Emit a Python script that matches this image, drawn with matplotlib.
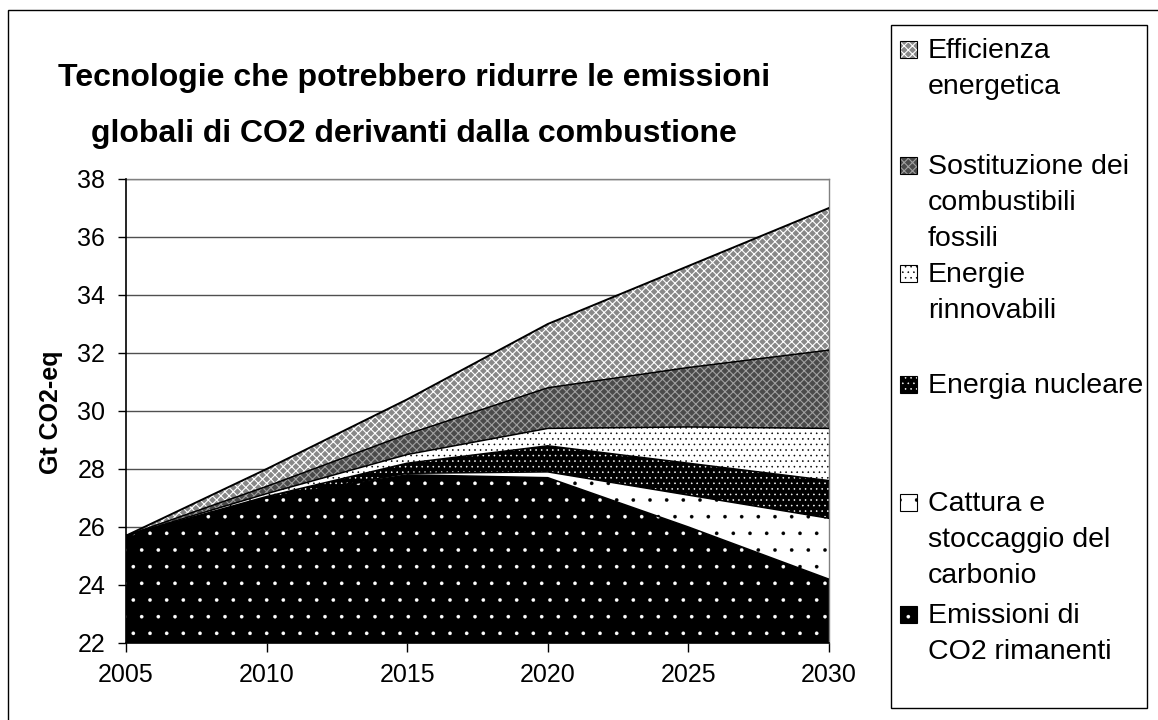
import numpy as np
import matplotlib
matplotlib.use("Agg")
import matplotlib.pyplot as plt
from matplotlib.patches import Rectangle

plt.rcParams['font.family'] = ['Liberation Sans', 'DejaVu Sans']

# Data (Gt CO2-eq), bottom layer first
years = [2005, 2010, 2015, 2020, 2025, 2030]
remaining = [25.7, 27.0, 27.8, 27.7, 26.0, 24.2]
ccs = [0.0, 0.0, 0.05, 0.2, 1.1, 2.1]
nuclear = [0.0, 0.05, 0.35, 0.9, 1.1, 1.3]
renewables = [0.0, 0.1, 0.3, 0.6, 1.25, 1.8]
fuel_switch = [0.0, 0.25, 0.7, 1.4, 2.05, 2.7]
efficiency = [0.0, 0.6, 1.2, 2.2, 3.5, 4.9]

labels = ["Emissioni di\nCO2 rimanenti",
          "Cattura e\nstoccaggio del\ncarbonio",
          "Energia nucleare",
          "Energie\nrinnovabili",
          "Sostituzione dei\ncombustibili\nfossili",
          "Efficienza\nenergetica"]
y_ticks = [22, 24, 26, 28, 30, 32, 34, 36, 38]

# face colour, hatch, hatch colour, hatch width for each layer
styles = [("black", ".", "white", 0.2),
          ("white", ".", "black", 0.2),
          ("black", "...", "white", 0.4),
          ("white", "...", "black", 0.4),
          ("#4a4a4a", "xxxx", "#a0a0a0", 0.8),
          ("#888888", "xxxx", "white", 0.8)]

W, H = 1158, 720
fig = plt.figure(figsize=(W / 100, H / 100), dpi=100)
ax = fig.add_axes([126 / W, 1 - 643 / H, 703 / W, 464 / H])

layers = [remaining, ccs, nuclear, renewables, fuel_switch, efficiency]
tops = np.cumsum(np.array(layers), axis=0)
bottoms = np.vstack([np.zeros(len(years)), tops[:-1]])

for i, (face, hatch, hcol, hlw) in enumerate(styles):
    with plt.rc_context({'hatch.color': hcol, 'hatch.linewidth': hlw}):
        ax.fill_between(years, bottoms[i], tops[i], facecolor=face,
                        hatch=hatch, linewidth=0, zorder=2)
for i in range(len(layers)):
    ax.plot(years, tops[i], color="black", lw=1.4 if i == 5 else 1.1, zorder=3)

ax.set_xlim(2005, 2030)
ax.set_ylim(22, 38)
ax.set_xticks(years)
ax.set_yticks(y_ticks)
ax.tick_params(axis='both', direction='out', labelsize=18, width=1, color='black')
ax.tick_params(axis='x', length=6.5, pad=8)
ax.tick_params(axis='y', length=6, pad=9)
ax.yaxis.grid(True, color='#505050', lw=1)
ax.set_axisbelow(True)
for s in ['left', 'bottom']:
    ax.spines[s].set_color('black')
    ax.spines[s].set_linewidth(1.2)
    ax.spines[s].set_zorder(4)
for s in ['top', 'right']:
    ax.spines[s].set_color('#808080')
    ax.spines[s].set_linewidth(1)

fig.text(51 / W, 1 - 412 / H, "Gt CO2-eq", rotation=90, ha='center', va='center',
         fontsize=18, fontweight='bold')

fig.text(414 / W, 1 - 86 / H, "Tecnologie che potrebbero ridurre le emissioni",
         ha='center', va='baseline', fontsize=23, fontweight='bold')
fig.text(414 / W, 1 - 142 / H, "globali di CO2 derivanti dalla combustione",
         ha='center', va='baseline', fontsize=23, fontweight='bold')

# outer frame and legend box
fig.patches.append(Rectangle((8 / W, -0.1), 1.2, 1.1 - 10 / H, fill=False,
                             ec='black', lw=1, transform=fig.transFigure))
fig.patches.append(Rectangle((891 / W, 1 - 708 / H), 256 / W, 683 / H, fill=False,
                             ec='black', lw=1, transform=fig.transFigure))

# legend entries, top entry first
baselines = [58, 174, 282, 393, 511, 623]
for k, idx in enumerate(range(len(layers) - 1, -1, -1)):
    face, hatch, hcol, hlw = styles[idx]
    b = baselines[k]
    with plt.rc_context({'hatch.linewidth': hlw}):
        fig.patches.append(Rectangle((900 / W, 1 - b / H), 17 / W, 17 / H, facecolor=face,
                                     edgecolor=hcol, hatch=hatch, lw=0,
                                     transform=fig.transFigure))
    fig.patches.append(Rectangle((900 / W, 1 - b / H), 17 / W, 17 / H, fill=False,
                                 ec='black', lw=0.8, transform=fig.transFigure))
    for j, line in enumerate(labels[idx].split("\n")):
        fig.text(928 / W, 1 - (b + 36 * j) / H, line, ha='left', va='baseline',
                 fontsize=20.5)

fig.savefig("out.png", dpi=100, facecolor='white')
